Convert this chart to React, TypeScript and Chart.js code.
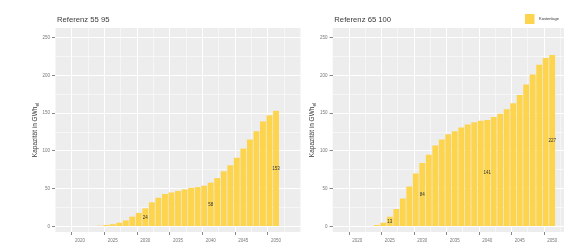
import React, { useEffect, useRef } from 'react';
import { Chart, registerables } from 'chart.js';

Chart.register(...registerables);

// ---------- data ----------
const YEARS = [
  2023, 2024, 2025, 2026, 2027, 2028, 2029, 2030, 2031, 2032, 2033, 2034, 2035, 2036,
  2037, 2038, 2039, 2040, 2041, 2042, 2043, 2044, 2045, 2046, 2047, 2048, 2049, 2050,
];
const LEFT_VALUES = [
  1, 2, 3, 5, 8, 13, 18, 24, 32, 38, 43, 45, 47, 49,
  51, 52, 54, 58, 64, 73, 81, 91, 103, 115, 126, 139, 147, 153,
];
const RIGHT_VALUES = [
  2, 5, 13, 23, 37, 53, 70, 84, 95, 107, 115, 122, 126, 131,
  135, 138, 140, 141, 145, 149, 155, 163, 174, 188, 201, 214, 223, 227,
];
const LEFT_LABEL_YEARS = [2030, 2040, 2050];
const RIGHT_LABEL_YEARS = [2025, 2030, 2040, 2050];
const X_TICKS = [2020, 2025, 2030, 2035, 2040, 2045, 2050];
const X_MINOR = [2017.5, 2022.5, 2027.5, 2032.5, 2037.5, 2042.5, 2047.5, 2052.5];
const Y_TICKS = [0, 50, 100, 150, 200, 250];
const Y_MINOR = [25, 75, 125, 175, 225];
const TITLES = ['Referenz 55 95', 'Referenz 65 100'];
const Y_TITLE = 'Kapazität in GWh';
const Y_TITLE_SUB = 'el';
const LEGEND_LABEL = 'Kostenlage';

// ---------- style ----------
const BAR_COLOR = '#FDD44E';
const PANEL_BG = '#EDEDED';
const FONT = "'Liberation Sans', Arial, sans-serif";
const X_MIN = 2017.43;
const X_MAX = 2052.57;
const Y_MIN = -7.3;
const Y_MAX = 262.6;

type PanelProps = {
  values: number[];
  labelYears: number[];
  title: string;
  left: number;
  width: number;
  axisWidth: number;
  rightPad: number;
  titleX: number;
  yTitleX: number;
  showLegend: boolean;
};

function Panel(p: PanelProps) {
  const ref = useRef<HTMLCanvasElement>(null);

  useEffect(() => {
    const canvas = ref.current!;
    const bgPlugin = {
      id: 'panelBg',
      beforeDraw(chart: any) {
        const { ctx, chartArea: a } = chart;
        ctx.save();
        ctx.fillStyle = PANEL_BG;
        ctx.fillRect(a.left, a.top, a.right - a.left, a.bottom - a.top);
        ctx.restore();
      },
    };
    const textPlugin = {
      id: 'texts',
      afterDatasetsDraw(chart: any) {
        const { ctx, scales } = chart;
        ctx.save();
        ctx.fillStyle = '#333';
        ctx.font = `4.5px ${FONT}`;
        ctx.textAlign = 'center';
        ctx.textBaseline = 'middle';
        p.labelYears.forEach((yr) => {
          const i = YEARS.indexOf(yr);
          const v = p.values[i];
          ctx.fillText(String(v), scales.x.getPixelForValue(yr), scales.y.getPixelForValue(v / 2));
        });
        ctx.restore();
      },
      afterDraw(chart: any) {
        const { ctx, chartArea: a } = chart;
        ctx.save();
        // title
        ctx.fillStyle = '#3a3a3a';
        ctx.font = `7.7px ${FONT}`;
        ctx.textAlign = 'left';
        ctx.textBaseline = 'middle';
        ctx.fillText(p.title, p.titleX, 19.5);
        // y title
        ctx.translate(p.yTitleX, (a.top + a.bottom) / 2);
        ctx.rotate(-Math.PI / 2);
        ctx.font = `6.5px ${FONT}`;
        const w1 = ctx.measureText(Y_TITLE).width;
        ctx.font = `4.8px ${FONT}`;
        const w2 = ctx.measureText(Y_TITLE_SUB).width;
        const start = -(w1 + w2) / 2;
        ctx.font = `6.5px ${FONT}`;
        ctx.fillText(Y_TITLE, start, 0);
        ctx.font = `4.8px ${FONT}`;
        ctx.fillText(Y_TITLE_SUB, start + w1, 2);
        ctx.restore();
        if (p.showLegend) {
          ctx.save();
          ctx.fillStyle = BAR_COLOR;
          ctx.fillRect(220, 14, 9.5, 10);
          ctx.fillStyle = '#333';
          ctx.font = `4px ${FONT}`;
          ctx.textAlign = 'left';
          ctx.textBaseline = 'middle';
          ctx.fillText(LEGEND_LABEL, 234, 19);
          ctx.restore();
        }
      },
    };

    const chart = new Chart(canvas, {
      type: 'bar',
      data: {
        datasets: [
          {
            data: YEARS.map((x, i) => ({ x, y: p.values[i] })) as any,
            backgroundColor: BAR_COLOR,
            borderWidth: 0,
            barPercentage: 0.9,
            categoryPercentage: 1,
          },
        ],
      },
      options: {
        responsive: false,
        animation: false,
        devicePixelRatio: 1,
        layout: { padding: { top: 28, right: p.rightPad, left: 0, bottom: 0 } },
        plugins: {
          legend: { display: false },
          tooltip: { enabled: false },
          title: { display: false },
        },
        scales: {
          x: {
            type: 'linear',
            min: X_MIN,
            max: X_MAX,
            afterBuildTicks: (s: any) => {
              s.ticks = [...X_MINOR, ...X_TICKS].sort((a, b) => a - b).map((v) => ({ value: v }));
            },
            afterFit: (s: any) => {
              s.height = 12;
            },
            border: { display: false },
            grid: {
              color: '#FFFFFF',
              lineWidth: (c: any) => (X_TICKS.includes(c.tick?.value) ? 1 : 0.5),
              tickColor: (c: any) => (X_TICKS.includes(c.tick?.value) ? '#888' : 'rgba(0,0,0,0)'),
              tickLength: 3,
              drawTicks: true,
            },
            ticks: {
              autoSkip: false,
              maxRotation: 0,
              padding: 3,
              color: '#777',
              font: { size: 4.5, family: FONT },
              callback: (v: any) => (X_TICKS.includes(Number(v)) ? String(v) : ''),
            },
          },
          y: {
            type: 'linear',
            min: Y_MIN,
            max: Y_MAX,
            afterBuildTicks: (s: any) => {
              s.ticks = [...Y_MINOR, ...Y_TICKS].sort((a, b) => a - b).map((v) => ({ value: v }));
            },
            afterFit: (s: any) => {
              s.width = p.axisWidth;
            },
            border: { display: false },
            grid: {
              color: '#FFFFFF',
              lineWidth: (c: any) => (Y_TICKS.includes(c.tick?.value) ? 1 : 0.5),
              tickColor: (c: any) => (Y_TICKS.includes(c.tick?.value) ? '#888' : 'rgba(0,0,0,0)'),
              tickLength: 3,
              drawTicks: true,
            },
            ticks: {
              autoSkip: false,
              padding: 2,
              color: '#777',
              font: { size: 4.5, family: FONT },
              callback: (v: any) => (Y_TICKS.includes(Number(v)) ? String(v) : ''),
            },
          },
        },
      } as any,
      plugins: [bgPlugin, textPlugin],
    });
    return () => chart.destroy();
  }, []);

  return (
    <canvas
      ref={ref}
      width={p.width}
      height={244}
      style={{ position: 'absolute', left: p.left, top: 0, width: p.width, height: 244 }}
    />
  );
}

export default function App() {
  return (
    <div
      style={{
        position: 'absolute',
        left: 0,
        top: 0,
        width: 564,
        height: 244,
        overflow: 'hidden',
        background: '#FFFFFF',
      }}
    >
      <Panel
        values={LEFT_VALUES}
        labelYears={LEFT_LABEL_YEARS}
        title={TITLES[0]}
        left={0}
        width={305}
        axisWidth={55}
        rightPad={4}
        titleX={57}
        yTitleX={35.5}
        showLegend={false}
      />
      <Panel
        values={RIGHT_VALUES}
        labelYears={RIGHT_LABEL_YEARS}
        title={TITLES[1]}
        left={305}
        width={282}
        axisWidth={27.5}
        rightPad={10}
        titleX={29.3}
        yTitleX={7.5}
        showLegend={true}
      />
    </div>
  );
}
